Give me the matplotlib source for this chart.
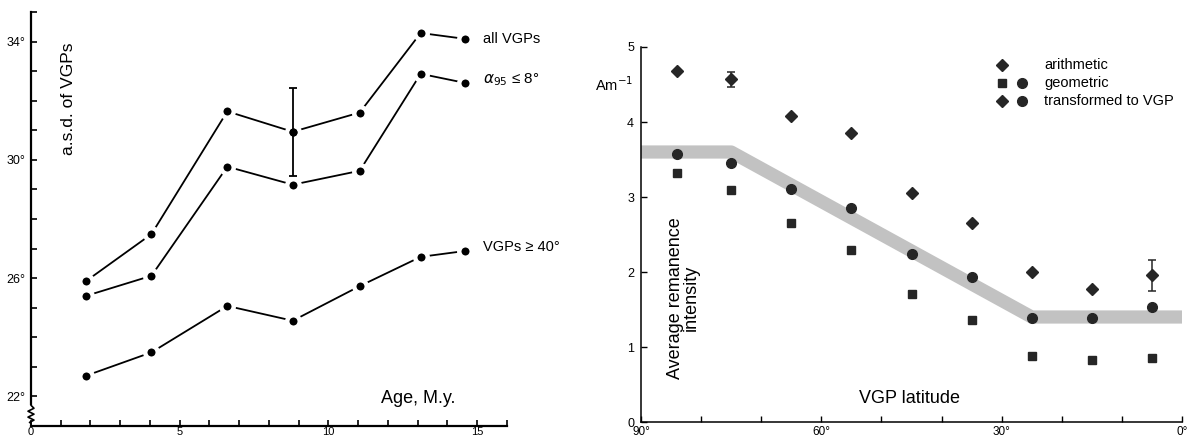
import matplotlib.pyplot as plt
from matplotlib.ticker import MultipleLocator, FixedLocator

plt.rcParams['font.family'] = ['Liberation Sans', 'DejaVu Sans']

# left panel: angular standard deviation of VGPs vs age
ages = [1.85, 4.05, 6.6, 8.8, 11.05, 13.1, 14.6]
asd_all = [25.9, 27.49, 31.64, 30.95, 31.6, 34.29, 34.09]
asd_a95 = [25.4, 26.08, 29.77, 29.16, 29.63, 32.91, 32.6]
asd_40 = [22.7, 23.49, 25.06, 24.56, 25.73, 26.72, 26.92]
err_all = (8.8, 29.46, 32.43)
left_labels = ['all VGPs', r'$\alpha_{95}$ ≤ 8°', 'VGPs ≥ 40°']

# right panel: remanence intensity vs VGP latitude
lat = [84, 75, 65, 55, 45, 35, 25, 15, 5]
arith = [4.68, 4.57, 4.08, 3.86, 3.06, 2.65, 2.00, 1.77, 1.96]
transf = [3.58, 3.46, 3.11, 2.85, 2.24, 1.94, 1.39, 1.39, 1.53]
geom = [3.32, 3.09, 2.66, 2.29, 1.71, 1.36, 0.88, 0.83, 0.86]
err_lat = [75, 5]
err_lo = [4.47, 1.75]
err_hi = [4.67, 2.16]
band_lat = [90, 75, 25, 0]
band_val = [3.6, 3.6, 1.4, 1.4]

fig = plt.figure(figsize=(11.92, 4.38), dpi=100)

# ---------- left ----------
ax1 = fig.add_axes([0.026, 0.0274, 0.3993, 0.9452])
for ys in (asd_all, asd_a95, asd_40):
    ax1.plot(ages, ys, '-o', color='black', lw=1.3, ms=9, mfc='black',
             mec='white', mew=3.2, clip_on=False, zorder=3)
ax1.errorbar(err_all[0], (err_all[1] + err_all[2]) / 2,
             yerr=(err_all[2] - err_all[1]) / 2, fmt='none', ecolor='black',
             elinewidth=1.3, capsize=3, capthick=1.3, zorder=4)
ax1.plot(err_all[0], asd_all[3], 'o', color='black', ms=5.8, mew=0, zorder=5)
ax1.text(15.2, asd_all[-1], left_labels[0], fontsize=10.5, va='center')
ax1.text(15.2, asd_a95[-1] + 0.1, left_labels[1], fontsize=11, va='center')
ax1.text(15.2, asd_40[-1] + 0.12, left_labels[2], fontsize=10.5, va='center')

ax1.set_xlim(0, 16)
ax1.set_ylim(21, 35)
for s in ('top', 'right'):
    ax1.spines[s].set_visible(False)
ax1.spines['left'].set_linewidth(1.6)
ax1.spines['bottom'].set_linewidth(1.6)
ax1.spines['left'].set_bounds(21.75, 35)
ax1.plot([0, 0, 0.1, -0.1, 0.1, -0.1, 0.1, -0.05, 0, 0],
         [21.75, 21.7, 21.6, 21.5, 21.4, 21.3, 21.2, 21.12, 21.1, 21.0],
         color='black', lw=1.2, clip_on=False)
ax1.xaxis.set_major_locator(FixedLocator([0, 5, 10, 15]))
ax1.xaxis.set_minor_locator(MultipleLocator(1))
ax1.yaxis.set_major_locator(FixedLocator([22, 26, 30, 34]))
ax1.yaxis.set_minor_locator(MultipleLocator(1))
ax1.set_yticklabels(['22°', '26°', '30°', '34°'])
ax1.tick_params(which='both', direction='in', length=4, width=1.2, labelsize=9)
ax1.tick_params(axis='x', pad=1, labelsize=8)
ax1.tick_params(axis='y', pad=4)
ax1.text(13.0, 21.93, 'Age, M.y.', fontsize=13, ha='center', va='center')
ax1.text(1.25, 32.05, 'a.s.d. of VGPs', fontsize=12.5, rotation=90,
         ha='center', va='center')

# ---------- right ----------
ax2 = fig.add_axes([0.5378, 0.0365, 0.4538, 0.8562])
ax2.plot(band_lat, band_val, color='#c2c2c2', lw=9.5, solid_joinstyle='round',
         solid_capstyle='butt', zorder=1)
mc = '#262626'
ax2.plot(lat, arith, 'D', color=mc, ms=6, zorder=3, clip_on=False)
ax2.plot(lat, transf, 'o', color=mc, ms=7, zorder=3, clip_on=False)
ax2.plot(lat, geom, 's', color=mc, ms=5.5, zorder=3, clip_on=False)
ax2.vlines(err_lat, err_lo, err_hi, color=mc, lw=1.1, zorder=2)
ax2.plot(err_lat, err_lo, '_', color=mc, ms=6, mew=1.1)
ax2.plot(err_lat, err_hi, '_', color=mc, ms=6, mew=1.1)

ax2.set_xlim(90, 0)
ax2.set_ylim(0, 5)
for s in ('top', 'right'):
    ax2.spines[s].set_visible(False)
ax2.spines['left'].set_linewidth(1.1)
ax2.spines['bottom'].set_linewidth(1.1)
ax2.xaxis.set_major_locator(FixedLocator([90, 60, 30, 0]))
ax2.xaxis.set_minor_locator(MultipleLocator(10))
ax2.set_xticklabels(['90°', '60°', '30°', '0°'])
ax2.yaxis.set_major_locator(MultipleLocator(1))
ax2.tick_params(which='both', direction='in', length=4, width=1, labelsize=9)
ax2.tick_params(axis='x', pad=3, labelsize=8.5)
ax2.tick_params(axis='y', pad=5)
ax2.get_yticklabels()[0].set_va('bottom')

ax2.text(-0.015, 0.9, 'Am$^{-1}$', transform=ax2.transAxes, fontsize=10.5,
         ha='right', va='center')
ax2.text(0.078, 0.33, 'Average remanence\nintensity', transform=ax2.transAxes,
         fontsize=13, rotation=90, ha='center', va='center', linespacing=0.85)
ax2.text(0.497, 0.062, 'VGP latitude', transform=ax2.transAxes, fontsize=13,
         ha='center', va='center')

# key
kx1, kx2, kt = 0.667, 0.704, 0.745
rows = [(0.952, 'arithmetic', 'D', None),
        (0.905, 'geometric', 's', 'o'),
        (0.855, 'transformed to VGP', 'D', 'o')]
sizes = {'D': 6, 's': 5.5, 'o': 7}
for ky, txt, m1, m2 in rows:
    ax2.plot(kx1, ky, m1, color=mc, ms=sizes[m1], transform=ax2.transAxes, clip_on=False)
    if m2:
        ax2.plot(kx2, ky, m2, color=mc, ms=sizes[m2], transform=ax2.transAxes, clip_on=False)
    ax2.text(kt, ky, txt, transform=ax2.transAxes, fontsize=10.5, va='center')

fig.savefig('out.png', dpi=100)
